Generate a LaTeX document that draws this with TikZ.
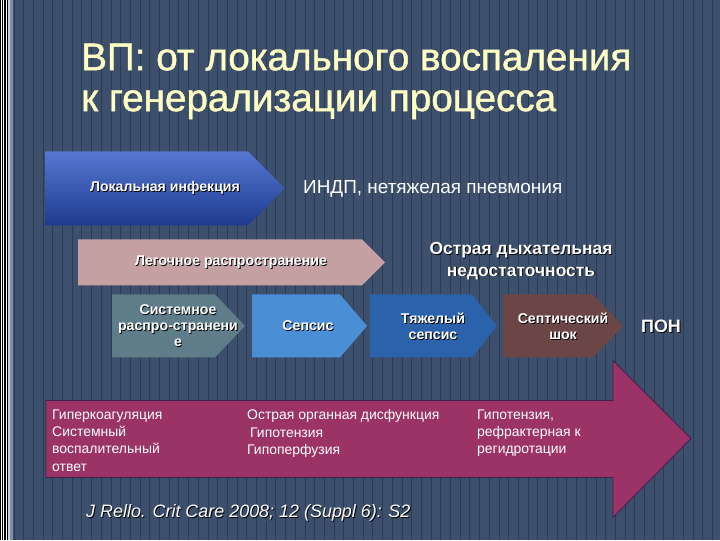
\documentclass[tikz,border=0pt]{standalone}
\usepackage{fontspec}
\setmainfont{Liberation Sans}
\newfontfamily\titlefont{Liberation Sans}[FakeBold=1.1]
\definecolor{bgslate}{HTML}{3C4F6C}
\definecolor{bgline}{HTML}{2C3B52}
\definecolor{edgeblue}{HTML}{C4D4EA}
\definecolor{edgegray}{HTML}{7E8FA8}
\definecolor{titleyellow}{HTML}{FFFFC4}
\definecolor{loctop}{HTML}{5676D0}
\definecolor{locbot}{HTML}{1E3B90}
\definecolor{lungpink}{HTML}{C4A0A2}
\definecolor{sysgray}{HTML}{5E7D89}
\definecolor{sepsblue}{HTML}{4A8ED6}
\definecolor{sevblue}{HTML}{2A63AB}
\definecolor{shockbrown}{HTML}{6C4646}
\definecolor{magfill}{HTML}{9C3366}
\definecolor{magline}{HTML}{3E2250}
% white text with a small black shadow
\newcommand\shtext[1]{\makebox[0pt][l]{\kern0.9pt\raisebox{-0.9pt}{\color{black}#1}}#1}
\begin{document}
\begin{tikzpicture}[x=1bp,y=-1bp,
  lbl/.style={text=white,font=\bfseries\fontsize{14.2}{16}\selectfont,align=center,inner sep=0pt},
  note/.style={text=white,font=\fontsize{14}{17.4}\selectfont,align=left,anchor=north west,inner sep=0pt},
  stripe/.style={draw=bgline,line width=0.9bp}]
  % background with vertical stripes
  \fill[bgslate] (0,0) rectangle (720,540);
  \foreach \x in {14,23.7,...,720} \draw[stripe] (\x,0) -- (\x,540);
  \fill[black] (0,0) rectangle (13,540);
  \fill[white] (1,0) rectangle (2,540);
  \fill[white] (3.3,0) rectangle (4.3,540);
  \fill[white] (6,0) rectangle (7,540);
  \fill[edgeblue] (7.5,0) rectangle (10,540);
  \fill[edgegray] (10,0) rectangle (13,540);
  % title
  \node[text=titleyellow,font=\titlefont\fontsize{38.8}{41}\selectfont,align=left,anchor=north west,inner sep=0pt]
    (title) at (81,43) {ВП: от локального воспаления\\к генерализации процесса};
  % arrows
  \shade[top color=loctop,bottom color=locbot] (45,151) -- (248,151) -- (285,188) -- (248,225) -- (45,225) -- cycle;
  \fill[lungpink] (78,239) -- (362,239) -- (385,262) -- (362,285) -- (78,285) -- cycle;
  \fill[sysgray] (112,294) -- (215,294) -- (245,325.5) -- (215,357) -- (112,357) -- cycle;
  \fill[sepsblue] (252,294) -- (340,294) -- (367,325.5) -- (340,357) -- (252,357) -- cycle;
  \fill[sevblue] (370,294) -- (472,294) -- (497,325.5) -- (472,357) -- (370,357) -- cycle;
  \fill[shockbrown] (503,294) -- (593,294) -- (623,325.5) -- (593,357) -- (503,357) -- cycle;
  \filldraw[fill=magfill,draw=magline,line width=0.8bp] (46,400) -- (613,400) -- (613,360) -- (691,438)
    -- (613,517) -- (613,477) -- (46,477) -- cycle;
  % labels
  \node[lbl] (local) at (165,188) {\shtext{Локальная инфекция}};
  \node[text=white,font=\fontsize{19}{22}\selectfont,anchor=west,inner sep=0pt]
    (indp) at (303,188) {ИНДП, нетяжелая пневмония};
  \node[lbl] (lung) at (231,262) {\shtext{Легочное распространение}};
  \node[lbl,font=\bfseries\fontsize{17.5}{21.5}\selectfont] (ard) at (521,261)
    {\shtext{Острая дыхательная}\\\shtext{недостаточность}};
  \node[lbl] (sirs) at (178,326) {\shtext{Системное}\\\shtext{распро-странени}\\\shtext{е}};
  \node[lbl] (sepsis) at (308,326) {\shtext{Сепсис}};
  \node[lbl] (severe) at (433,326) {\shtext{Тяжелый}\\\shtext{сепсис}};
  \node[lbl] (shock) at (563,326) {\shtext{Септический}\\\shtext{шок}};
  \node[lbl,font=\bfseries\fontsize{18}{20}\selectfont] (pon) at (661,326) {\shtext{ПОН}};
  \node[note] (col1) at (52,409) {Гиперкоагуляция\\Системный\\воспалительный\\ответ};
  \node[note] (col2) at (247,409) {Острая органная дисфункция\\\hspace*{3bp}Гипотензия\\Гипоперфузия};
  \node[note] (col3) at (477,409) {Гипотензия,\\рефрактерная к\\регидротации};
  \node[text=white,font=\itshape\fontsize{18}{20}\selectfont,anchor=west,inner sep=0pt]
    (cite) at (86,513) {\shtext{J Rello. Crit Care 2008; 12 (Suppl 6): S2}};
\end{tikzpicture}
\end{document}
